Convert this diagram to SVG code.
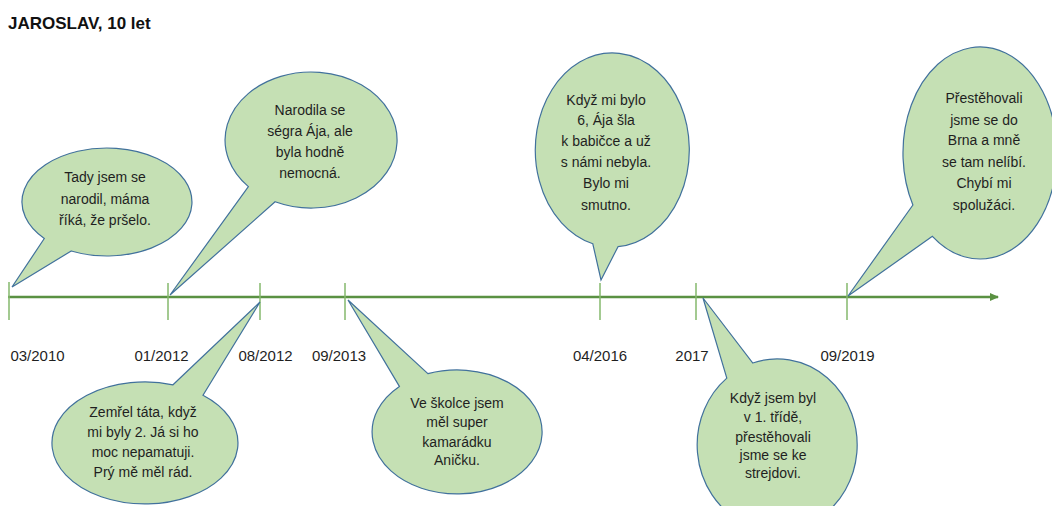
<svg xmlns="http://www.w3.org/2000/svg" width="1052" height="506" viewBox="0 0 1052 506">
  <style>
    .bubble { fill: #c5e0b4; stroke: #41719c; stroke-width: 1.2; }
    .bt { font-family: "Liberation Sans", Arial, sans-serif; font-size: 14px; fill: #1f1f1f; text-anchor: middle; }
    .date { font-family: "Liberation Sans", Arial, sans-serif; font-size: 15px; fill: #1f1f1f; text-anchor: middle; }
    .tick { stroke: #84b86c; stroke-width: 1.5; }
    .axis { stroke: #5a9142; stroke-width: 2.5; fill: none; }
    .title { font-family: "Liberation Sans", Arial, sans-serif; font-size: 17px; font-weight: bold; fill: #111; }
  </style>
  <defs>
    <marker id="arrow" markerWidth="10" markerHeight="10" refX="8" refY="4" orient="auto" markerUnits="userSpaceOnUse">
      <path d="M0,0 L9,4 L0,8 Z" fill="#5a9142"/>
    </marker>
  </defs>
  <rect width="1052" height="506" fill="#ffffff"/>
  <text class="title" x="8" y="29">JAROSLAV, 10 let</text>

  <g id="connectors">
    <line class="axis" x1="8" y1="297" x2="998" y2="297" marker-end="url(#arrow)"/>
    <line class="tick" x1="9" y1="282" x2="9" y2="320"/>
    <line class="tick" x1="168" y1="283" x2="168" y2="320"/>
    <line class="tick" x1="260" y1="283" x2="260" y2="320"/>
    <line class="tick" x1="345" y1="283" x2="345" y2="320"/>
    <line class="tick" x1="600" y1="283" x2="600" y2="320"/>
    <line class="tick" x1="696" y1="283" x2="696" y2="320"/>
    <line class="tick" x1="847" y1="283" x2="847" y2="320"/>
  </g>

  <g id="dates">
    <text class="date" x="37.5" y="361">03/2010</text>
    <text class="date" x="161.5" y="361">01/2012</text>
    <text class="date" x="265.5" y="361">08/2012</text>
    <text class="date" x="339" y="361">09/2013</text>
    <text class="date" x="600" y="361">04/2016</text>
    <text class="date" x="692" y="361">2017</text>
    <text class="date" x="847.5" y="361">09/2019</text>
  </g>

  <g id="bubble-2010">
    <path class="bubble" d="M 71.2 251 L 12 287 L 44.3 238.5 A 85 54 0 1 1 71.2 251 Z"/>
    <text class="bt" x="105" y="182">Tady jsem se</text>
    <text class="bt" x="105" y="203.5">narodil, máma</text>
    <text class="bt" x="105" y="225">říká, že pršelo.</text>
  </g>

  <g id="bubble-2012-01">
    <path class="bubble" d="M 275.1 201.8 L 170 295 L 248.4 186.6 A 86 68 0 1 1 275.1 201.8 Z"/>
    <text class="bt" x="310" y="115">Narodila se</text>
    <text class="bt" x="310" y="136">ségra Ája, ale</text>
    <text class="bt" x="310" y="157">byla hodně</text>
    <text class="bt" x="310" y="178">nemocná.</text>
  </g>

  <g id="bubble-2012-08">
    <path class="bubble" d="M 173 384.8 L 260 302 L 203 395.3 A 93 61 0 1 1 173 384.8 Z"/>
    <text class="bt" x="143" y="417">Zemřel táta, když</text>
    <text class="bt" x="143" y="437">mi byly 2. Já si ho</text>
    <text class="bt" x="143" y="457">moc nepamatuji.</text>
    <text class="bt" x="143" y="477">Prý mě měl rád.</text>
  </g>

  <g id="bubble-2013">
    <path class="bubble" d="M 399.4 386.4 L 348 300 L 427.9 373.7 A 85 62 0 1 1 399.4 386.4 Z"/>
    <text class="bt" x="457" y="408">Ve školce jsem</text>
    <text class="bt" x="457" y="427">měl super</text>
    <text class="bt" x="457" y="447">kamarádku</text>
    <text class="bt" x="457" y="465">Aničku.</text>
  </g>

  <g id="bubble-2016">
    <path class="bubble" d="M 592.8 243.8 L 601 280 L 618 246.7 A 77 97 0 1 0 592.8 243.8 Z"/>
    <text class="bt" x="606" y="105">Když mi bylo</text>
    <text class="bt" x="606" y="125">6, Ája šla</text>
    <text class="bt" x="606" y="146">k babičce a už</text>
    <text class="bt" x="606" y="167">s námi nebyla.</text>
    <text class="bt" x="606" y="188">Bylo mi</text>
    <text class="bt" x="606" y="210">smutno.</text>
  </g>

  <g id="bubble-2017">
    <path class="bubble" d="M 726.8 378.1 L 703 298 L 752.8 363 A 80 86 0 1 1 726.8 378.1 Z"/>
    <text class="bt" x="773" y="403">Když jsem byl</text>
    <text class="bt" x="773" y="422">v 1. třídě,</text>
    <text class="bt" x="773" y="442">přestěhovali</text>
    <text class="bt" x="773" y="460">jsme se ke</text>
    <text class="bt" x="773" y="478">strejdovi.</text>
  </g>

  <g id="bubble-2019">
    <path class="bubble" d="M 932.4 236.3 L 848 296 L 912.9 205 A 77 106 0 1 1 932.4 236.3 Z"/>
    <text class="bt" x="984" y="103">Přestěhovali</text>
    <text class="bt" x="984" y="125">jsme se do</text>
    <text class="bt" x="984" y="145">Brna a mně</text>
    <text class="bt" x="984" y="167">se tam nelíbí.</text>
    <text class="bt" x="984" y="188">Chybí mi</text>
    <text class="bt" x="984" y="210">spolužáci.</text>
  </g>
</svg>
